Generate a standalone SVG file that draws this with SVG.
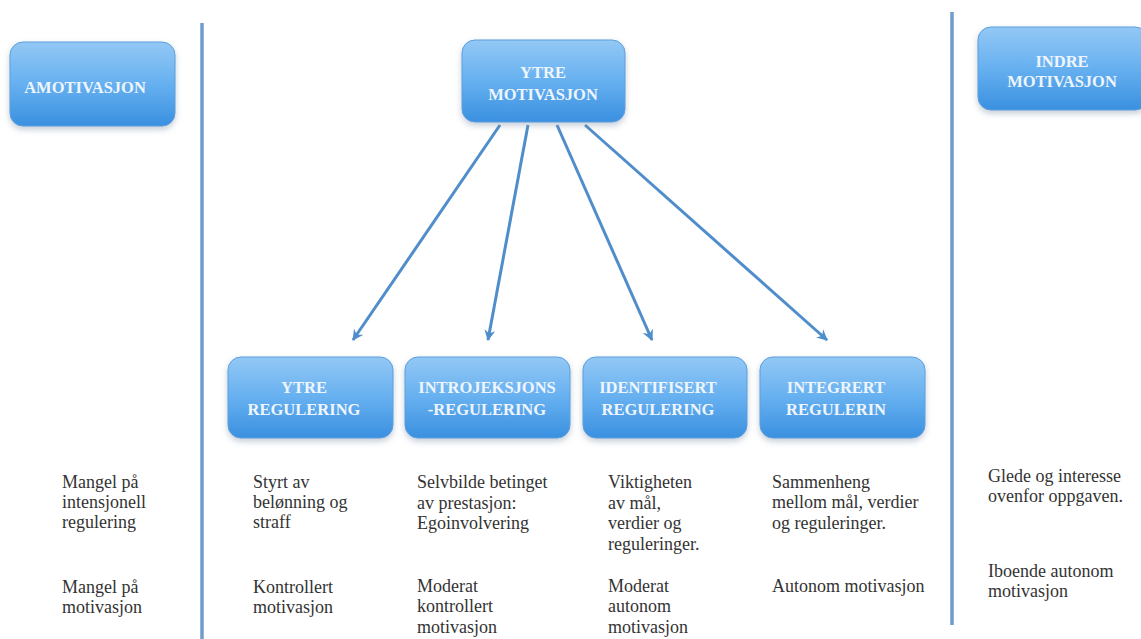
<svg xmlns="http://www.w3.org/2000/svg" width="1141" height="639" viewBox="0 0 1141 639">
<style>
.box{fill:url(#g);stroke:#5d9fdc;stroke-width:1;filter:url(#sh)}
.bt{font-family:'Liberation Serif','DejaVu Serif',serif;font-weight:bold;font-size:16.5px;fill:#eef5fd;text-anchor:middle}
.tx{font-family:'Liberation Serif','DejaVu Serif',serif;font-size:18px;fill:#333}
.arr{stroke:#4f8dcb;stroke-width:3;fill:none;marker-end:url(#ah)}
.vl{stroke:#6f9ccb;stroke-width:3.5}
</style>
<defs>
<linearGradient id="g" x1="0" y1="0" x2="0" y2="1">
<stop offset="0" stop-color="#93c8f5"/>
<stop offset="0.5" stop-color="#66b0f0"/>
<stop offset="1" stop-color="#3a90e0"/>
</linearGradient>
<filter id="sh" x="-10%" y="-10%" width="120%" height="130%">
<feDropShadow dx="0" dy="3" stdDeviation="3" flood-color="#7a8fa8" flood-opacity="0.45"/>
</filter>
<marker id="ah" markerWidth="12" markerHeight="12" refX="10" refY="6" orient="auto" markerUnits="userSpaceOnUse">
<path d="M0,0.5 L11,6 L0,11.5 L3.5,6 Z" fill="#4f8dcb"/>
</marker>
</defs>
<rect width="1141" height="639" fill="#fff"/>
<g id="dividers">
<line class="vl" x1="202" y1="23" x2="202" y2="639"/>
<line class="vl" x1="952" y1="12" x2="952" y2="625"/>
</g>
<g id="connectors">
<line class="arr" x1="500" y1="125" x2="353" y2="340"/>
<line class="arr" x1="528" y1="125" x2="488" y2="340"/>
<line class="arr" x1="557" y1="125" x2="652" y2="340"/>
<line class="arr" x1="585" y1="125" x2="827" y2="340"/>
</g>
<g id="amotivasjon">
<rect class="box" x="10" y="42" width="165" height="84" rx="13"/>
<text class="bt" x="85" y="92.5" font-family="Liberation Serif, serif">AMOTIVASJON</text>
</g>
<g id="ytre-motivasjon">
<rect class="box" x="462" y="40" width="163" height="82" rx="13"/>
<text class="bt" x="543" y="78">YTRE</text>
<text class="bt" x="543" y="100">MOTIVASJON</text>
</g>
<g id="indre-motivasjon">
<rect class="box" x="978" y="27" width="170" height="83" rx="13"/>
<text class="bt" x="1062" y="67">INDRE</text>
<text class="bt" x="1062" y="87">MOTIVASJON</text>
</g>
<g id="ytre-regulering">
<rect class="box" x="228" y="357" width="165" height="81" rx="13"/>
<text class="bt" x="304" y="393">YTRE</text>
<text class="bt" x="304" y="415">REGULERING</text>
</g>
<g id="introjeksjons-regulering">
<rect class="box" x="405" y="357" width="165" height="81" rx="13"/>
<text class="bt" x="487" y="393">INTROJEKSJONS</text>
<text class="bt" x="487" y="415">-REGULERING</text>
</g>
<g id="identifisert-regulering">
<rect class="box" x="583" y="357" width="164" height="81" rx="13"/>
<text class="bt" x="658" y="393">IDENTIFISERT</text>
<text class="bt" x="658" y="415">REGULERING</text>
</g>
<g id="integrert-regulering">
<rect class="box" x="760" y="357" width="165" height="81" rx="13"/>
<text class="bt" x="836" y="393">INTEGRERT</text>
<text class="bt" x="836" y="415">REGULERIN</text>
</g>
<g id="descriptions">
<text class="tx" x="62" y="488">Mangel på</text>
<text class="tx" x="62" y="508">intensjonell</text>
<text class="tx" x="62" y="528">regulering</text>
<text class="tx" x="62" y="593">Mangel på</text>
<text class="tx" x="62" y="613">motivasjon</text>
<text class="tx" x="253" y="488">Styrt av</text>
<text class="tx" x="253" y="508">belønning og</text>
<text class="tx" x="253" y="528">straff</text>
<text class="tx" x="253" y="593">Kontrollert</text>
<text class="tx" x="253" y="613">motivasjon</text>
<text class="tx" x="417" y="488">Selvbilde betinget</text>
<text class="tx" x="417" y="509">av prestasjon:</text>
<text class="tx" x="417" y="529">Egoinvolvering</text>
<text class="tx" x="417" y="592">Moderat</text>
<text class="tx" x="417" y="612">kontrollert</text>
<text class="tx" x="417" y="633">motivasjon</text>
<text class="tx" x="608" y="488">Viktigheten</text>
<text class="tx" x="608" y="509">av mål,</text>
<text class="tx" x="608" y="529">verdier og</text>
<text class="tx" x="608" y="550">reguleringer.</text>
<text class="tx" x="608" y="592">Moderat</text>
<text class="tx" x="608" y="612">autonom</text>
<text class="tx" x="608" y="633">motivasjon</text>
<text class="tx" x="772" y="488">Sammenheng</text>
<text class="tx" x="772" y="508">mellom mål, verdier</text>
<text class="tx" x="772" y="529">og reguleringer.</text>
<text class="tx" x="772" y="592">Autonom motivasjon</text>
<text class="tx" x="988" y="482">Glede og interesse</text>
<text class="tx" x="988" y="502">ovenfor oppgaven.</text>
<text class="tx" x="988" y="577">Iboende autonom</text>
<text class="tx" x="988" y="597">motivasjon</text>
</g>
</svg>
